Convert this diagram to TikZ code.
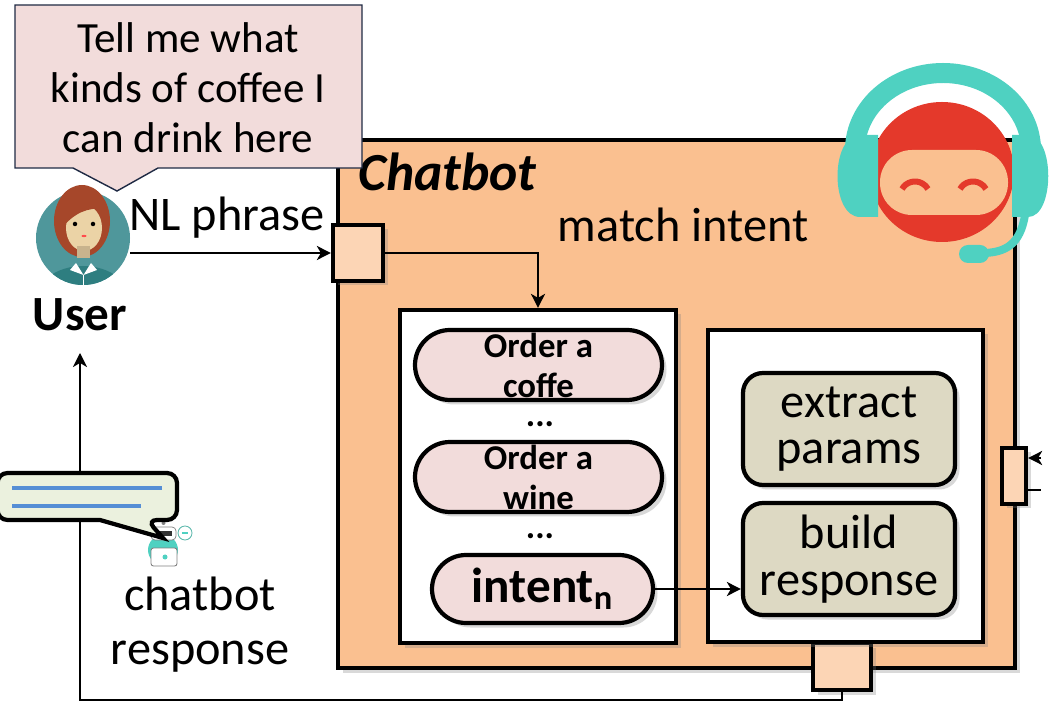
\documentclass[tikz,border=0pt]{standalone}
\usepackage{fontspec}
\setmainfont{Carlito}
\usetikzlibrary{shapes.misc, arrows.meta, positioning, shadows}

\definecolor{bubblepink}{HTML}{F2DCDB}
\definecolor{bubbleline}{HTML}{1F2A44}
\definecolor{chatorange}{HTML}{FAC090}
\definecolor{portpeach}{HTML}{FCD5B5}
\definecolor{tasktan}{HTML}{DDD9C3}
\definecolor{chatgreen}{HTML}{EBF1DE}
\definecolor{lineblue}{HTML}{558ED5}
\definecolor{headset}{HTML}{4FD1C1}
\definecolor{robotred}{HTML}{E4392B}
\definecolor{avatarteal}{HTML}{4F979B}
\definecolor{avatardark}{HTML}{2E7E80}
\definecolor{hairred}{HTML}{A6472A}
\definecolor{skin}{HTML}{EBD3A6}

\begin{document}
\begin{tikzpicture}[
  conn/.style={line width=1.5pt, -{Stealth[length=0.28cm, width=0.28cm, inset=0.08cm]}},
  boxline/.style={draw, line width=2.4pt, drop shadow={opacity=0.3, shadow xshift=0.09cm, shadow yshift=-0.09cm}},
  port/.style={boxline, fill=portpeach, inner sep=0pt},
  intentpill/.style={boxline, rounded rectangle, fill=bubblepink, minimum width=4.94cm, minimum height=1.4cm, inner sep=0pt, align=center, font=\bfseries\fontsize{19.8}{22.8}\selectfont},
  task/.style={boxline, rounded corners=0.4cm, fill=tasktan, minimum width=4.24cm, minimum height=2.24cm, inner sep=0pt, align=center, font=\fontsize{27.5}{26.5}\selectfont},
  lbl/.style={inner sep=0pt, align=center, font=\fontsize{27.5}{30}\selectfont},
  dotlbl/.style={inner sep=0pt, font=\bfseries\fontsize{20}{22}\selectfont}
]
  \useasboundingbox (0,0) rectangle (21.02,14);

  % chatbot frame and its ports
  \node[boxline, fill=chatorange, minimum width=13.54cm, minimum height=10.56cm] (chatbot) at (13.53,5.92) {};
  \node[font=\bfseries\itshape\fontsize{30.5}{32}\selectfont, anchor=west, inner sep=0pt] (title) at (7.16,10.56) {Chatbot};
  \node[lbl] (match) at (13.66,9.50) {match intent};

  \node[port, minimum width=1.0cm, minimum height=1.12cm] (inport) at (7.16,8.94) {};
  \node[port, minimum width=0.48cm, minimum height=1.12cm] (rport) at (20.28,4.48) {};
  \node[port, minimum width=1.16cm, minimum height=0.94cm] (outport) at (16.84,0.67) {};

  % intents
  \node[boxline, fill=white, minimum width=5.52cm, minimum height=6.66cm] (intents) at (10.76,4.47) {};
  \node[intentpill] (coffee) at (10.77,6.70) {Order a\\coffe};
  \node[dotlbl] (dotsa) at (10.80,5.52) {...};
  \node[intentpill] (wine) at (10.77,4.46) {Order a\\wine};
  \node[dotlbl] (dotsb) at (10.80,3.28) {...};
  \node[intentpill, minimum width=4.42cm, minimum height=1.36cm, font=\bfseries\fontsize{28}{30}\selectfont] (intentn) at (10.85,2.22) {intent\textsubscript{n}};

  % fulfilment
  \node[boxline, fill=white, minimum width=5.50cm, minimum height=6.24cm] (handler) at (16.91,4.28) {};
  \node[task] (extract) at (16.98,5.42) {extract\\params};
  \node[task] (build) at (16.98,2.82) {build\\response};

  % robot head
  \draw[headset, line width=0.4cm] (17.10,11.00) arc (180:0:1.76 and 1.54);
  \fill[robotred] (18.84,10.56) ellipse (1.44 and 1.40);
  \fill[chatorange, rounded corners=0.64cm] (17.60,9.70) rectangle (20.16,11.00);
  \draw[robotred, line width=0.12cm] (18.04,10.22) arc (150:30:0.30);
  \draw[robotred, line width=0.12cm] (19.20,10.22) arc (150:30:0.30);
  \fill[headset] (17.56,11.30) -- (17.56,9.66) -- (17.20,9.66) .. controls (16.60,9.66) and (16.60,11.30) .. (17.20,11.30) -- cycle;
  \fill[headset] (20.24,11.30) -- (20.24,9.66) -- (20.56,9.66) .. controls (21.10,9.66) and (21.10,11.30) .. (20.56,11.30) -- cycle;
  \draw[headset, line width=0.16cm] (20.50,9.70) .. controls (20.40,9.10) and (20.10,8.96) .. (19.70,8.94);
  \fill[headset, rounded corners=0.18cm] (19.18,8.74) rectangle (19.78,9.10);

  % user
  \node[circle, minimum size=1.88cm, inner sep=0pt] (user) at (1.66,9.24) {};
  \begin{scope}[shift={(user.center)}]
    \fill[avatarteal] (0,0) circle (0.94);
    \fill[hairred] (-0.02,0.34) ellipse (0.56 and 0.72);
    \fill[skin] (0.02,0.20) ellipse (0.36 and 0.46);
    \fill[hairred] (-0.42,0.20) -- (-0.32,0.74) -- (0.28,0.84) -- (0.42,0.58) .. controls (0.10,0.62) and (-0.18,0.50) .. cycle;
    \fill[skin!85!black] (-0.12,-0.40) rectangle (0.14,-0.16);
    \begin{scope}
      \clip (0,0) circle (0.94);
      \fill[avatardark] (0,-1.30) ellipse (0.98 and 0.74);
      \draw[white, line width=1pt] (0.01,-0.74) -- (0.01,-0.96);
    \end{scope}
    \fill[white] (-0.14,-0.50) -- (0.01,-0.74) -- (-0.26,-0.64) -- cycle;
    \fill[white] (0.16,-0.50) -- (0.01,-0.74) -- (0.28,-0.64) -- cycle;
    \fill (-0.16,0.28) circle (0.045);
    \fill (0.20,0.28) circle (0.045);
    \fill[red!70] (0.02,0.04) ellipse (0.05 and 0.022);
  \end{scope}
  \node[font=\bfseries\fontsize{28}{30}\selectfont, inner sep=0pt] (userlbl) at (1.60,7.70) {User};
  \node[lbl] (nl) at (4.54,9.64) {NL phrase};

  % question bubble
  \draw[bubbleline, line width=0.8pt, fill=bubblepink] (0.30,13.90) -- (7.24,13.90) -- (7.24,10.64) -- (3.16,10.64)
    -- (2.34,10.18) -- (1.46,10.64) -- (0.30,10.64) -- cycle;
  \node[lbl, font=\fontsize{24.5}{28.5}\selectfont] (ask) at (3.76,12.24) {Tell me what\\kinds of coffee I\\can drink here};

  % connectors
  \coordinate (extin) at (21.30,4.84);
  \coordinate (extout) at (21.30,4.20);
  \coordinate (retbase) at (1.60,0.0);
  \draw[conn] (user.east |- inport.west) -- (inport.west);
  \draw[conn] (inport.east) -| (intents.north);
  \draw[conn] (intentn.east) -- (intentn.east -| build.west);
  \draw[conn, dash pattern=on 0.26cm off 0.22cm] (extin) -- (extin -| rport.east);
  \draw[line width=1.5pt, dash pattern=on 0.26cm off 0.22cm] (rport.east |- extout) -- (extout);
  \draw[conn, shorten >=0.43cm] (outport.south) |- (retbase) -- (retbase |- userlbl.south);

  % bot answering
  \begin{scope}[shift={(3.26,3.0)}]
    \fill[headset] (0,0) circle (0.30);
    \draw[gray, fill=white, line width=0.5pt, rounded corners=0.05cm] (-0.24,-0.32) rectangle (0.28,0.04);
    \fill[headset] (0.04,-0.14) circle (0.05);
    \draw[gray, fill=white, line width=0.4pt, rounded corners=0.08cm] (-0.24,0.20) rectangle (0.26,0.46);
    \fill[black!80] (-0.16,0.27) rectangle (0.18,0.38);
    \fill[gray] (0.01,0.54) circle (0.04);
    \draw[headset!70!gray, fill=white, line width=0.5pt] (0.44,0.34) circle (0.14);
    \draw[headset, line width=0.6pt] (0.38,0.34) -- (0.50,0.34);
  \end{scope}
  \draw[line width=2.4pt, fill=chatgreen, rounded corners=0.2cm] (-0.05,4.54) -- (3.54,4.54) -- (3.54,3.60)
    -- (2.94,3.60) [sharp corners] -- (3.26,3.24) -- (2.00,3.60) [rounded corners=0.2cm] -- (-0.05,3.60) -- cycle;
  \draw[lineblue, line width=1.8pt] (0.24,4.24) -- (3.24,4.24);
  \draw[lineblue, line width=1.8pt] (0.24,3.88) -- (2.82,3.88);
  \node[lbl, font=\fontsize{27.5}{30.7}\selectfont] (resp) at (4.00,1.51) {chatbot\\response};
\end{tikzpicture}
\end{document}
